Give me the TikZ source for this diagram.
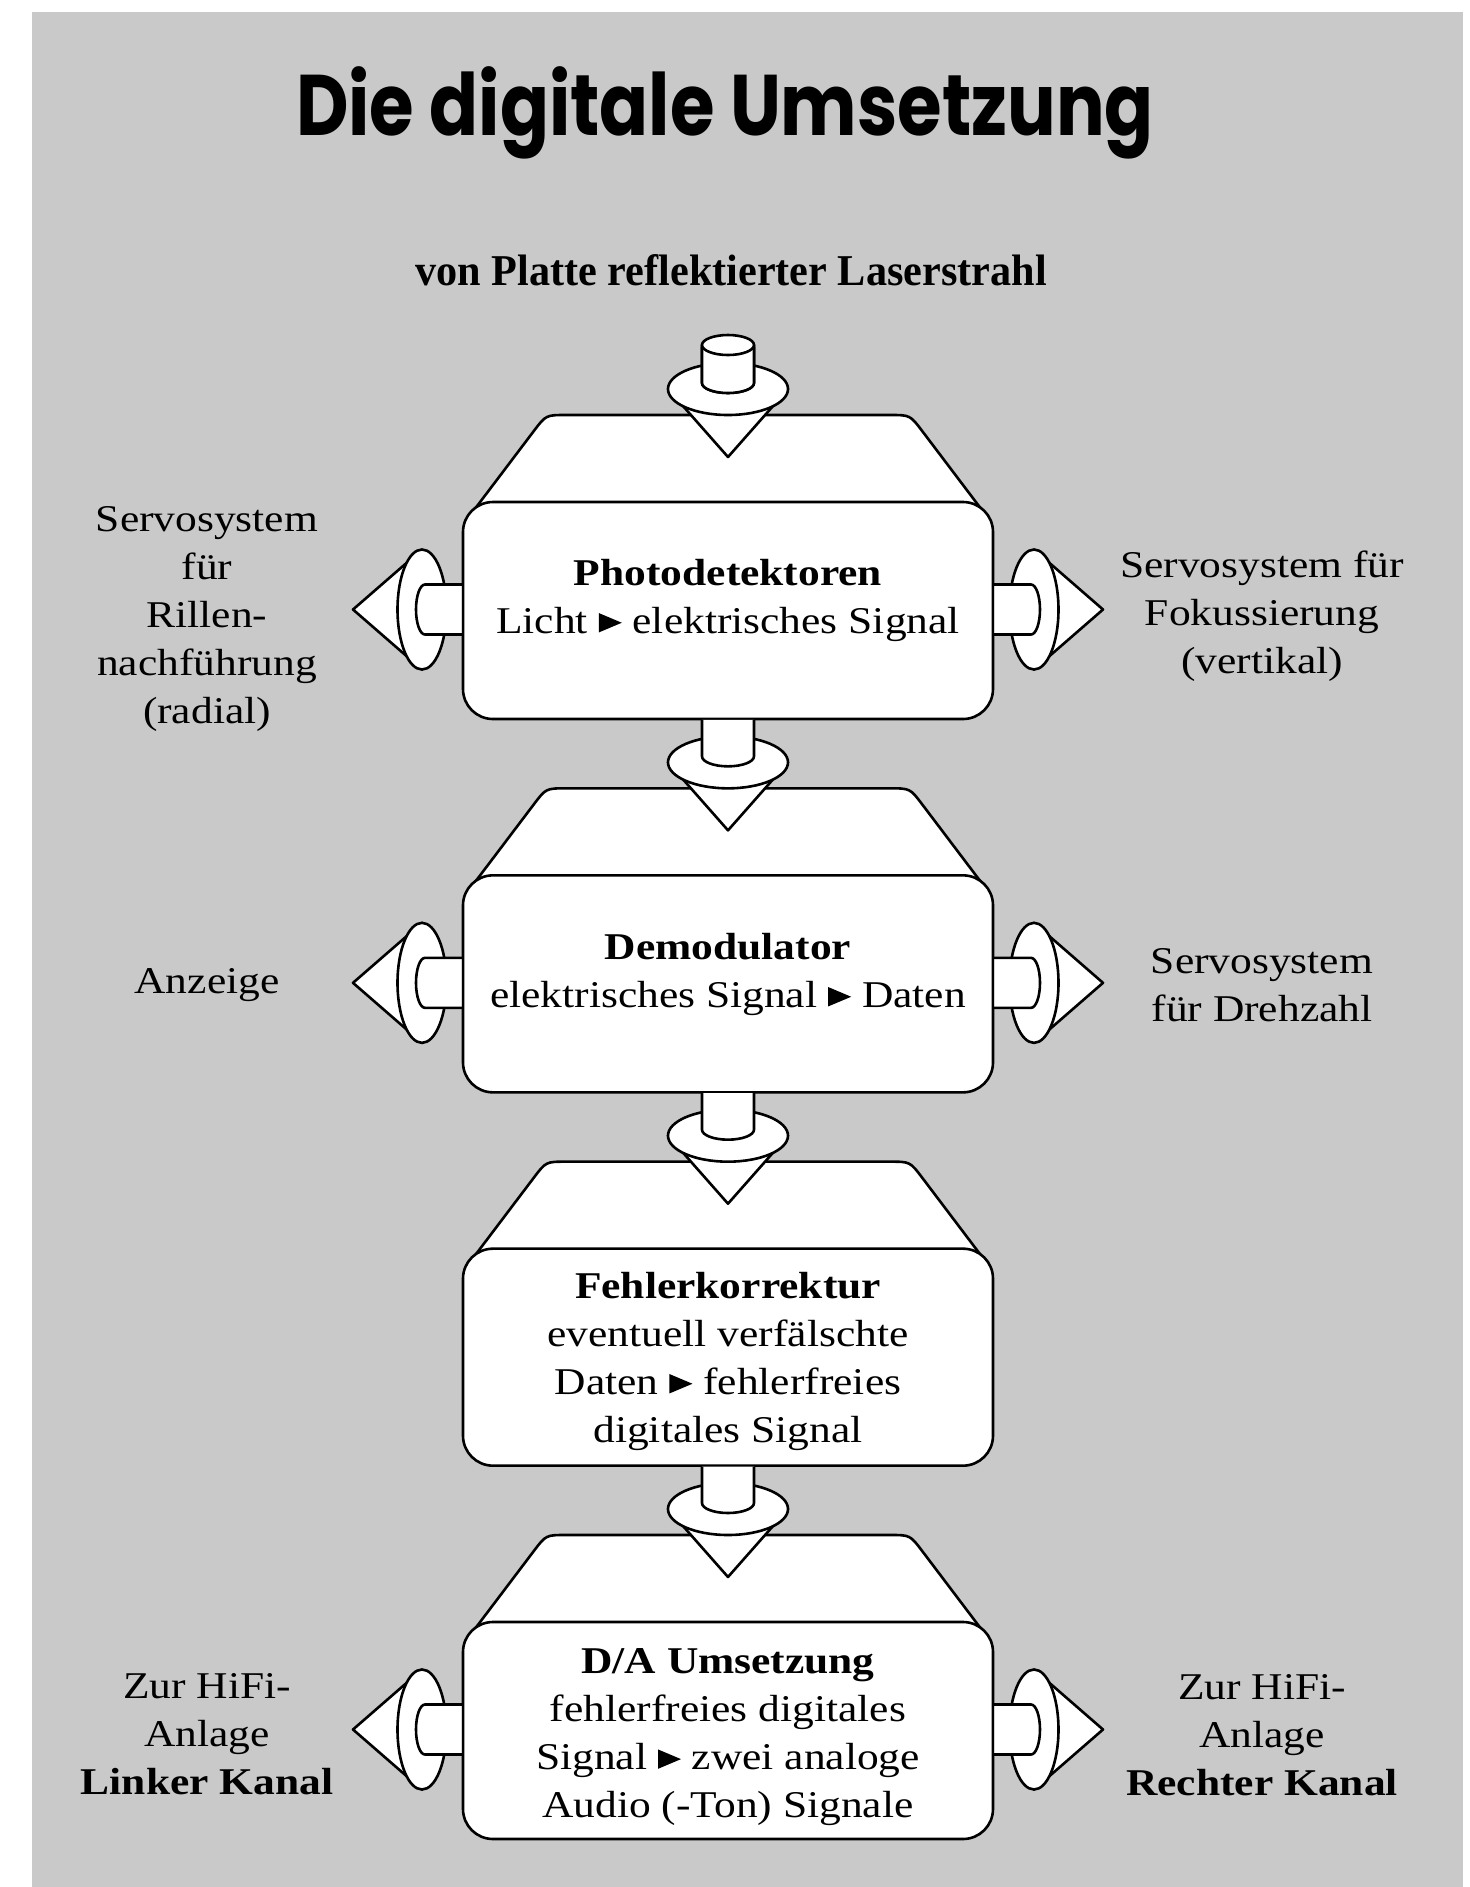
\documentclass[tikz,border=0pt]{standalone}
\usepackage{fontspec}
\setmainfont{Liberation Serif}[FakeStretch=1.15]
\newfontfamily\titlefont{Poppins}[FakeStretch=0.84]
\newfontfamily\labfont{Liberation Serif}[FakeStretch=0.96]
\newcommand\tri{\tikz[x=1pt,y=1pt,baseline=0pt]\fill[black] (0,0.3)--(0,10)--(11.5,5.15)--cycle;}
\definecolor{bg}{gray}{0.79}
\tikzset{
  ln/.style={line width=1.3pt, line join=round},
  wh/.style={ln, fill=white, draw=black},
  txt/.style={align=center, inner sep=0pt, font=\fontsize{18.9}{24}\selectfont},
}
\begin{document}
\begin{tikzpicture}[x=0.5pt,y=-0.5pt]
\useasboundingbox (0,0) rectangle (1470,1887);
\fill[white] (0,0) rectangle (1470,1887);
\fill[bg] (32,12) rectangle (1463,1887);

% blocks with incoming vertical arrows
\foreach \k in {0,1,2,3}{
  \pgfmathsetmacro\d{373.33*\k}
  \filldraw[wh] (465,522+\d) -- (533.9,430.9+\d) .. controls (546,415+\d) .. (566,415+\d)
     -- (890,415+\d) .. controls (910,415+\d) .. (922.1,430.9+\d) -- (991,522+\d) -- cycle;
  \filldraw[wh, rounded corners=15pt] (463,502+\d) rectangle (993,719+\d);
  \filldraw[wh] (668,389+\d) -- (728,457+\d) -- (788,389+\d) -- cycle;
  \filldraw[wh] (728,389+\d) ellipse [x radius=30pt, y radius=13pt];
  \fill[white] (702,346.5+\d) -- (702,383+\d) arc[start angle=180,end angle=360,x radius=13pt,y radius=5pt] -- (754,346.5+\d) -- cycle;
  \draw[ln] (702,346.5+\d) -- (702,383+\d) arc[start angle=180,end angle=360,x radius=13pt,y radius=5pt] -- (754,346.5+\d);
}
% top of the incoming cylinder
\filldraw[wh] (702,345) -- (702,383) arc[start angle=180,end angle=360,x radius=13pt,y radius=5pt] -- (754,345) -- cycle;
\filldraw[wh] (728,345) ellipse [x radius=13pt, y radius=5pt];

% side arrows
\foreach \k in {0,1,3}{
  \pgfmathsetmacro\c{609.5+373.33*\k}
  % left
  \filldraw[wh] (422,\c-60) -- (353,\c) -- (422,\c+60) -- cycle;
  \filldraw[wh] (422,\c) ellipse [x radius=12.25pt, y radius=30pt];
  \fill[white] (461.7,\c-25) -- (425,\c-25) arc[start angle=90,end angle=270,x radius=4.5pt,y radius=12.5pt] -- (461.7,\c+25) -- cycle;
  \draw[ln] (463,\c-25) -- (425,\c-25) arc[start angle=90,end angle=270,x radius=4.5pt,y radius=12.5pt] -- (463,\c+25);
  % right
  \filldraw[wh] (1034,\c-60) -- (1103,\c) -- (1034,\c+60) -- cycle;
  \filldraw[wh] (1034,\c) ellipse [x radius=12.25pt, y radius=30pt];
  \fill[white] (994.3,\c-25) -- (1031,\c-25) arc[start angle=90,end angle=-90,x radius=4.5pt,y radius=12.5pt] -- (994.3,\c+25) -- cycle;
  \draw[ln] (993,\c-25) -- (1031,\c-25) arc[start angle=90,end angle=-90,x radius=4.5pt,y radius=12.5pt] -- (993,\c+25);
}

% texts
\node[anchor=base, font=\titlefont\bfseries\fontsize{43}{43}\selectfont] (title) at (725,135) {Die digitale Umsetzung};
\node[anchor=base, font=\labfont\bfseries\fontsize{22}{22}\selectfont] (laser) at (731,285) {von Platte reflektierter Laserstrahl};

\node[txt] (b1) at (728,600) {\textbf{Photodetektoren}\\Licht \tri{} elektrisches Signal};
\node[txt] (b2) at (728,974) {\textbf{Demodulator}\\elektrisches Signal \tri{} Daten};
\node[txt] (b3) at (728,1361) {\textbf{Fehlerkorrektur}\\eventuell verfälschte\\Daten \tri{} fehlerfreies\\digitales Signal};
\node[txt] (b4) at (728,1737) {\textbf{D/A Umsetzung}\\fehlerfreies digitales\\Signal \tri{} zwei analoge\\Audio (-Ton) Signale};

\node[txt] (l1) at (207,619) {Servosystem\\für\\Rillen-\\nachführung\\(radial)};
\node[txt] (r1) at (1262,616) {Servosystem für\\Fokussierung\\(vertikal)};
\node[txt] (l2) at (207,985) {Anzeige};
\node[txt] (r2) at (1262,985) {Servosystem\\für Drehzahl};
\node[txt] (l4) at (207,1734) {Zur HiFi-\\Anlage\\\textbf{Linker Kanal}};
\node[txt] (r4) at (1262,1735) {Zur HiFi-\\Anlage\\\textbf{Rechter Kanal}};
\end{tikzpicture}
\end{document}
